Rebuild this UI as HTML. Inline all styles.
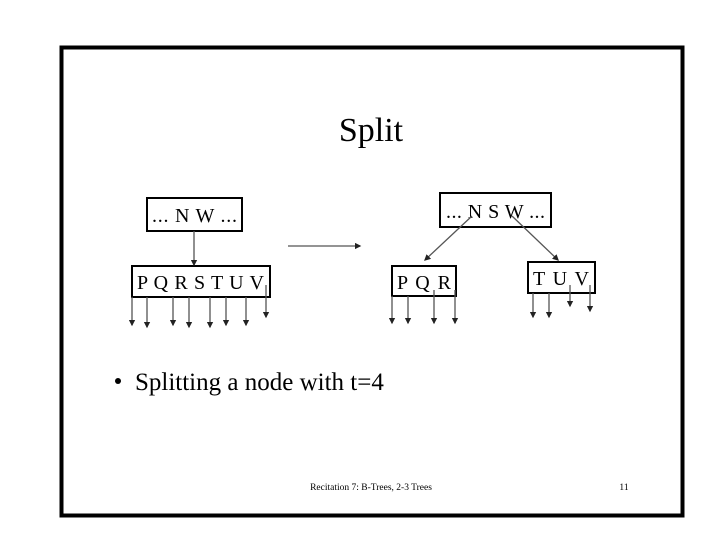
<!DOCTYPE html>
<html><head><style>
html,body{margin:0;padding:0;background:#fff;}
body{width:720px;height:540px;position:relative;overflow:hidden;font-family:"Liberation Serif",serif;}
</style></head><body>
<svg width="720" height="540" viewBox="0 0 720 540" style="position:absolute;left:0;top:0">
<defs><marker id="a" markerWidth="5" markerHeight="5" refX="4" refY="2.5" orient="auto"><path d="M0,0L5,2.5L0,5z" fill="#222"/></marker></defs>
<rect x="61.5" y="47.5" width="621" height="468" fill="none" stroke="#000" stroke-width="4"/>
<text x="371" y="141" font-size="34" text-anchor="middle" font-family="Liberation Serif">Split</text>
<g fill="none" stroke="#000" stroke-width="2">
<rect x="147" y="198" width="95" height="33"/>
<rect x="132" y="266" width="138" height="31"/>
<rect x="440" y="193" width="111" height="34"/>
<rect x="392" y="266" width="64" height="30"/>
<rect x="528" y="262" width="67" height="31"/>
</g>
<g font-size="20" font-family="Liberation Serif">
<text x="152" y="222" textLength="85" lengthAdjust="spacing">... N W ...</text>
<text x="137" y="289" textLength="127" lengthAdjust="spacing">P Q R S T U V</text>
<text x="446" y="218" textLength="99" lengthAdjust="spacing">... N S W ...</text>
<text x="397" y="289" textLength="54" lengthAdjust="spacing">P Q R</text>
<text x="533" y="285" textLength="56" lengthAdjust="spacing">T U V</text>
</g>
<g stroke="#555" stroke-width="1.3" marker-end="url(#a)">
<line x1="194" y1="231" x2="194" y2="265"/>
<line x1="288" y1="246" x2="360" y2="246"/>
<line x1="472" y1="216" x2="425" y2="260"/>
<line x1="512" y1="216" x2="558" y2="260"/>
<line x1="132" y1="297" x2="132" y2="325"/>
<line x1="147" y1="297" x2="147" y2="327"/>
<line x1="173" y1="297" x2="173" y2="325"/>
<line x1="189" y1="297" x2="189" y2="327"/>
<line x1="210" y1="297" x2="210" y2="327"/>
<line x1="226" y1="297" x2="226" y2="325"/>
<line x1="246" y1="297" x2="246" y2="325"/>
<line x1="266" y1="285" x2="266" y2="317"/>
<line x1="392" y1="296" x2="392" y2="323"/>
<line x1="408" y1="296" x2="408" y2="323"/>
<line x1="434" y1="290" x2="434" y2="323"/>
<line x1="455" y1="290" x2="455" y2="323"/>
<line x1="533" y1="293" x2="533" y2="317"/>
<line x1="549" y1="293" x2="549" y2="317"/>
<line x1="570" y1="285" x2="570" y2="306"/>
<line x1="590" y1="285" x2="590" y2="311"/>
</g>
<circle cx="118" cy="381" r="3" fill="#000"/>
<text x="135" y="390" font-size="25" font-family="Liberation Serif">Splitting a node with t=4</text>
<text x="371" y="490" font-size="9.5" text-anchor="middle" font-family="Liberation Serif">Recitation 7: B-Trees, 2-3 Trees</text>
<text x="624" y="490" font-size="9.5" text-anchor="middle" font-family="Liberation Serif">11</text>
</svg>
</body></html>
